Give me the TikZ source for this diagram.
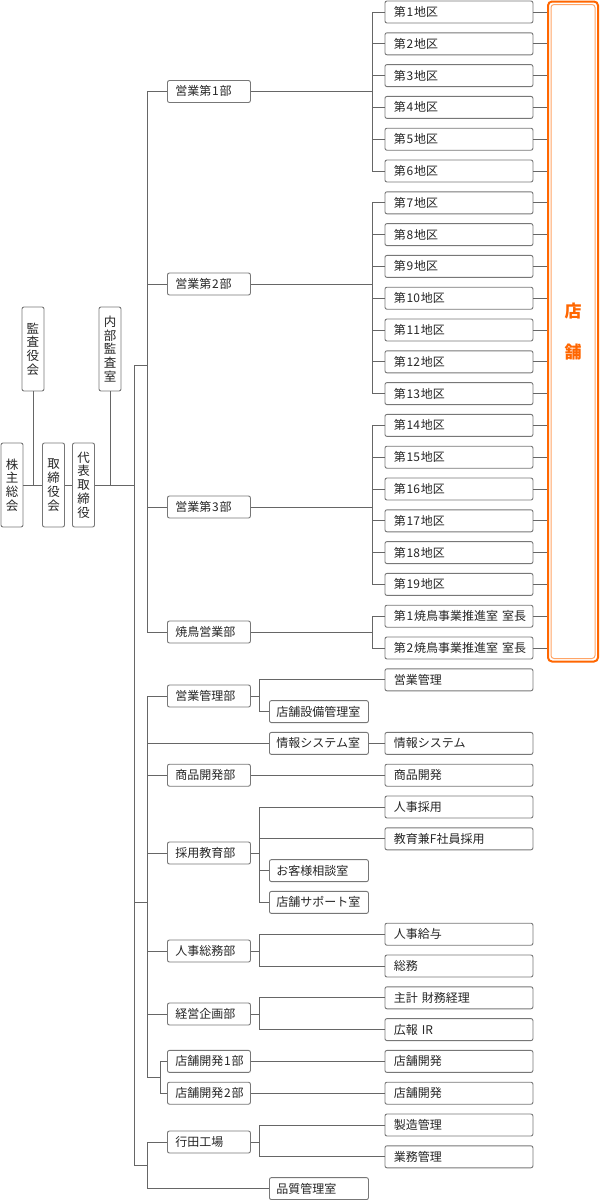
\documentclass[tikz,border=0pt]{standalone}
\usepackage{fontspec}
\setmainfont{Noto Sans CJK JP}
\definecolor{linec}{HTML}{666666}
\definecolor{boxc}{HTML}{777777}
\definecolor{txt}{HTML}{262626}
\definecolor{orng}{HTML}{FF6600}
\definecolor{orngl}{HTML}{FFA466}
\newcommand\dg[1]{\kern0.8pt#1\kern0.8pt}
\tikzset{
  box/.style={draw=boxc, line width=0.9pt, rounded corners=2pt, fill=white,
    minimum height=22pt, inner ysep=0pt, text height=10.2pt, text depth=1.3pt,
    font=\fontsize{12}{13}\selectfont, text=txt, anchor=west, align=left},
  rbox/.style={box, inner xsep=9pt, text width=130pt},
  mbox/.style={box, inner xsep=7pt, text width=85pt},
  dbox/.style={box, inner xsep=8pt, text width=67pt},
  vbox/.style={draw=boxc, line width=0.9pt, rounded corners=2pt, fill=white,
    minimum width=22pt, minimum height=84pt, inner sep=0pt, align=center,
    font=\fontsize{12.5}{13.8}\selectfont, text=txt},
  link/.style={draw=linec, line width=0.9pt},
}
\begin{document}
\begin{tikzpicture}[x=1pt,y=-1pt]
\useasboundingbox (0,0) rectangle (600,1200);

% ---- left column (vertical boxes)
\node[vbox] (kabu)  at (12,485)   {株\\主\\総\\会};
\node[vbox] (tori)  at (53.5,485) {取\\締\\役\\会};
\node[vbox] (ceo)   at (83.5,485) {代\\表\\取\\締\\役};
\node[vbox] (kansa) at (33,349)   {監\\査\\役\\会};
\node[vbox] (naibu) at (110,349)  {内\\部\\監\\査\\室};

% ---- right column boxes
\foreach \i in {1,...,19}{
  \pgfmathsetmacro\yy{12+(\i-1)*31.8}
  \pgfmathtruncatemacro\k{\i-1}
  \node[rbox] (r\k) at (384.5,\yy) {第\dg{\i}地区};
}
\node[rbox] (r19) at (384.5,616.2) {\mbox{第\dg{1}焼鳥事業推進室 室長}};
\node[rbox] (r20) at (384.5,648)   {\mbox{第\dg{2}焼鳥事業推進室 室長}};
\node[rbox] (r21) at (384.5,679.8) {営業管理};
\node[rbox] (r23) at (384.5,743.4) {情報システム};
\node[rbox] (r24) at (384.5,775.2) {商品開発};
\node[rbox] (r25) at (384.5,807)   {人事採用};
\node[rbox] (r26) at (384.5,838.8) {教育兼F社員採用};
\node[rbox] (r29) at (384.5,934.2) {人事給与};
\node[rbox] (r30) at (384.5,966)   {総務};
\node[rbox] (r31) at (384.5,997.8) {\mbox{主計 財務経理}};
\node[rbox] (r32) at (384.5,1029.6){\mbox{広報 IR}};
\node[rbox] (r33) at (384.5,1061.4){店舗開発};
\node[rbox] (r34) at (384.5,1093.2){店舗開発};
\node[rbox] (r35) at (384.5,1125)  {製造管理};
\node[rbox] (r36) at (384.5,1156.8){業務管理};

% ---- middle column boxes
\node[mbox] (m22) at (269,711.6)  {店舗設備管理室};
\node[mbox] (m23) at (269,743.4)  {情報システム室};
\node[mbox] (m27) at (269,870.6)  {お客様相談室};
\node[mbox] (m28) at (269,902.4)  {店舗サポート室};
\node[mbox] (m37) at (269,1188.6) {品質管理室};

% ---- department boxes
\node[dbox] (d1)  at (167,91.5)   {営業第\dg{1}部};
\node[dbox] (d2)  at (167,284)    {営業第\dg{2}部};
\node[dbox] (d3)  at (167,507)    {営業第\dg{3}部};
\node[dbox] (d4)  at (167,632)    {焼鳥営業部};
\node[dbox] (d5)  at (167,696)    {営業管理部};
\node[dbox] (d6)  at (167,775.2)  {商品開発部};
\node[dbox] (d7)  at (167,853)    {採用教育部};
\node[dbox] (d8)  at (167,951)    {人事総務部};
\node[dbox] (d9)  at (167,1014)   {経営企画部};
\node[dbox] (d10) at (167,1061.4) {店舗開発\dg{1}部};
\node[dbox] (d11) at (167,1093.2) {店舗開発\dg{2}部};
\node[dbox] (d12) at (167,1142)   {行田工場};

% ---- store box
\node[draw=orng, line width=2pt, rounded corners=4pt, minimum width=50pt,
      minimum height=660pt, inner sep=0pt, align=center, text=orng,
      font=\fontsize{17}{41}\selectfont\bfseries] (store) at (573,331.5) {店\\舗};
\draw[orngl, line width=1pt, rounded corners=3pt]
  ([shift={(4,4)}]store.north west) rectangle ([shift={(-4,-4)}]store.south east);

% ---- coordinates
\coordinate (mainA) at (134,365);
\coordinate (mainB) at (134,902);
\coordinate (mainC) at (134,1165);
\coordinate (jA) at (147,365);
\coordinate (jB) at (147,902);
\coordinate (jC) at (147,1165);
\coordinate (k1) at (160,1077.3);
\coordinate (b1) at (372,91.5);
\coordinate (b2) at (372,284);
\coordinate (b3) at (372,507);
\coordinate (b4) at (372,632);
\coordinate (b5) at (259,696);
\coordinate (b7) at (259,853);
\coordinate (b8) at (259,951);
\coordinate (b9) at (259,1014);
\coordinate (b12) at (259,1142);

% ---- top-left connectors
\draw[link] (kabu.east) -- (tori.west);
\draw[link] (kansa.south) -- (kansa.south |- kabu.east);
\draw[link] (tori.east) -- (ceo.west);
\draw[link] (ceo.east) -- (ceo.east -| mainA);
\draw[link] (naibu.south) -- (naibu.south |- ceo.east);

% ---- spines
\draw[link] (mainA) -- (mainC);
\draw[link] (mainA) -- (jA);
\draw[link] (mainB) -- (jB);
\draw[link] (mainC) -- (jC);
\foreach \d in {d1,d2,d3,d4}{ \draw[link] (jA) |- (\d.west); }
\foreach \d in {d5,m23,d6,d7,d8,d9}{ \draw[link] (jB) |- (\d.west); }
\draw[link] (jB) |- (k1);
\draw[link] (k1) |- (d10.west);
\draw[link] (k1) |- (d11.west);
\draw[link] (jC) |- (d12.west);
\draw[link] (jC) |- (m37.west);

% ---- department brackets
\draw[link] (d1.east) -- (b1);
\foreach \i in {0,...,5}{ \draw[link] (b1) |- (r\i.west); }
\draw[link] (d2.east) -- (b2);
\foreach \i in {6,...,12}{ \draw[link] (b2) |- (r\i.west); }
\draw[link] (d3.east) -- (b3);
\foreach \i in {13,...,18}{ \draw[link] (b3) |- (r\i.west); }
\draw[link] (d4.east) -- (b4);
\foreach \i in {19,20}{ \draw[link] (b4) |- (r\i.west); }
\draw[link] (d5.east) -- (b5);
\draw[link] (b5) |- (r21.west);
\draw[link] (b5) |- (m22.west);
\draw[link] (m23.east) -- (r23.west);
\draw[link] (d6.east) -- (r24.west);
\draw[link] (d7.east) -- (b7);
\foreach \n in {r25,r26,m27,m28}{ \draw[link] (b7) |- (\n.west); }
\draw[link] (d8.east) -- (b8);
\foreach \n in {r29,r30}{ \draw[link] (b8) |- (\n.west); }
\draw[link] (d9.east) -- (b9);
\foreach \n in {r31,r32}{ \draw[link] (b9) |- (\n.west); }
\draw[link] (d10.east) -- (r33.west);
\draw[link] (d11.east) -- (r34.west);
\draw[link] (d12.east) -- (b12);
\foreach \n in {r35,r36}{ \draw[link] (b12) |- (\n.west); }

% ---- to store
\foreach \i in {0,...,20}{ \draw[link] (r\i.east) -- (r\i.east -| store.west); }
\end{tikzpicture}
\end{document}
